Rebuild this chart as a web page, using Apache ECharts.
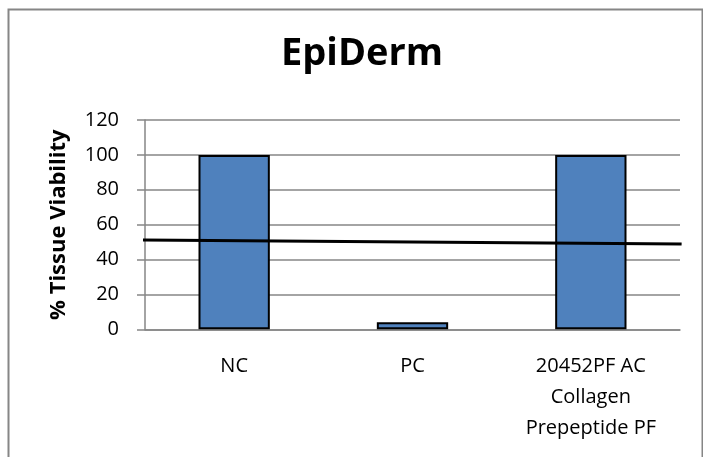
<!DOCTYPE html>
<html>
<head>
<meta charset="utf-8">
<script src="https://cdn.jsdelivr.net/npm/echarts@6/dist/echarts.min.js"></script>
<style>html,body{margin:0;padding:0;background:#fff}#c{width:703px;height:457px}</style>
</head>
<body>
<div id="c"></div>
<script>
var titleText = 'EpiDerm';
var yAxisName = '% Tissue Viability';
var categories = ['NC', 'PC', '20452PF AC\nCollagen\nPrepeptide PF'];
var viability = [100, 4, 100];
var yTicks = {min: 0, max: 120, interval: 20};
// threshold line drawn across the plot (x as fraction of plot width, y in %)
var thresholdLine = [[-0.015, 51.2], [1.003, 48.9]];

var chart = echarts.init(document.getElementById('c'));
var font = 'Open Sans';
chart.setOption({
  animation: false,
  backgroundColor: '#fff',
  graphic: [{
    type: 'rect', left: 6, top: 7,
    shape: {width: 694, height: 460},
    style: {fill: 'none', stroke: '#868686', lineWidth: 2}, silent: true
  }],
  title: {
    text: titleText, left: 357, top: 30, textAlign: 'center',
    textStyle: {fontFamily: font, fontWeight: 'bold', fontSize: 38, color: '#000'}
  },
  grid: {left: 145, right: 23, top: 120, bottom: 127.7, containLabel: false},
  xAxis: [{
    type: 'category', data: categories,
    axisLine: {show: true, lineStyle: {color: '#868686', width: 1.5}},
    axisTick: {show: false},
    axisLabel: {fontFamily: font, fontSize: 20, color: '#000', margin: 21, lineHeight: 31, interval: 0}
  }, {
    type: 'value', min: 0, max: 1, show: false
  }],
  yAxis: {
    type: 'value', min: yTicks.min, max: yTicks.max, interval: yTicks.interval,
    name: yAxisName, nameLocation: 'middle', nameGap: 75,
    nameTextStyle: {fontFamily: font, fontWeight: 'bold', fontSize: 22, color: '#000'},
    axisLine: {show: true, lineStyle: {color: '#868686', width: 1.5}},
    axisTick: {show: true, length: 8, lineStyle: {color: '#868686', width: 1.5}},
    axisLabel: {fontFamily: font, fontSize: 20, color: '#000', margin: 26},
    splitLine: {show: true, lineStyle: {color: '#868686', width: 1.5}}
  },
  series: [{
    type: 'bar', data: viability, barWidth: '40%',
    itemStyle: {color: '#4F81BD', borderColor: '#000', borderWidth: 2}
  }, {
    type: 'line', xAxisIndex: 1, data: thresholdLine, clip: false,
    symbol: 'none', lineStyle: {color: '#000', width: 3}, z: 5
  }]
});
</script>
</body>
</html>
